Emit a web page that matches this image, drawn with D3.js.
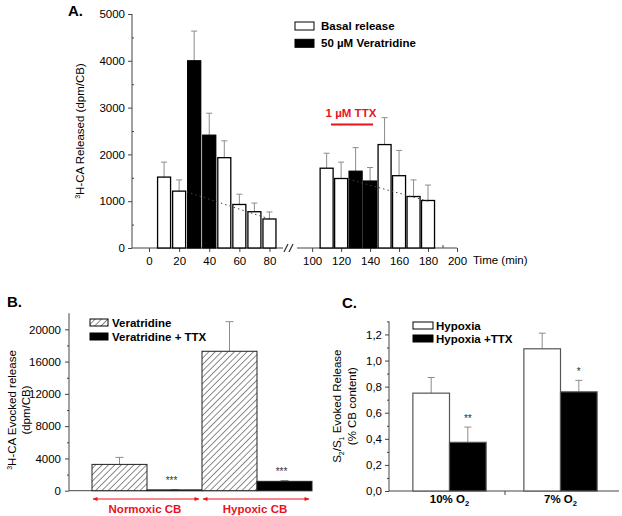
<!DOCTYPE html>
<html lang="en">
<head>
<meta charset="utf-8">
<title>Veratridine / TTX release</title>
<script src="https://cdn.jsdelivr.net/npm/d3@7"></script>
<style>
    body { margin: 0; background: #fff; }
    svg { font-family: "Liberation Sans", Arial, sans-serif; }
    .tick text { font-size: 11.5px; fill: #000; }
    .bold { font-weight: bold; }
    .red { fill: #e8141c; }
</style>
</head>
<body>
<svg id="fig" width="622" height="516"></svg>
<script>
// ---- panel A: time course ----
const timeA = [10, 20, 30, 40, 50, 60, 70, 80, 110, 120, 130, 140, 150, 160, 170, 180];
const releaseA = [1515, 1215, 4000, 2410, 1930, 930, 775, 620, 1705, 1485, 1640, 1430, 2210, 1545, 1100, 1015];
const errA = [1835, 1455, 4635, 2880, 2290, 1150, 960, 770, 2025, 1835, 2145, 1720, 2785, 2085, 1455, 1345];
const veraA = [false, false, true, true, false, false, false, false, false, false, true, true, false, false, false, false];
const trendA = [[[25, 1200], [80, 620]], [[125, 1470], [180, 1000]]];
const ttxA = [113, 142, 2640];
const xTicksA = [0, 20, 40, 60, 80, 100, 120, 140, 160, 180, 200];
const yTicksA = [0, 1000, 2000, 3000, 4000, 5000];

// ---- panel B: evoked release ----
const groupsB = ["Normoxic CB", "Hypoxic CB"];
const seriesB = ["Veratridine", "Veratridine + TTX"];
const valuesB = [[3260, 100], [17280, 1160]];
const errB = [[4130, 130], [20950, 1260]];
const starsB = [["", "***"], ["", "***"]];
const yTicksB = [0, 4000, 8000, 12000, 16000, 20000];

// ---- panel C: S2/S1 ----
const groupsC = ["10%", "7%"];
const seriesC = ["Hypoxia", "Hypoxia +TTX"];
const valuesC = [[0.75, 0.373], [1.09, 0.76]];
const errC = [[0.87, 0.49], [1.21, 0.848]];
const starsC = [["", "**"], ["", "*"]];
const yTicksC = [0, 0.2, 0.4, 0.6, 0.8, 1.0, 1.2];

const svg = d3.select("#fig");
const errCol = "#8c8c8c";
const plain = d3.format("d");

const defs = svg.append("defs");
const hatch = defs.append("pattern")
    .attr("id", "hatch").attr("patternUnits", "userSpaceOnUse")
    .attr("width", 4.5).attr("height", 4.5)
    .attr("patternTransform", "rotate(45)");
hatch.append("rect").attr("width", 4.5).attr("height", 4.5).attr("fill", "#fff");
hatch.append("line").attr("x1", 0).attr("y1", 0).attr("x2", 0).attr("y2", 4.5)
    .attr("stroke", "#000").attr("stroke-width", 0.9);
defs.append("marker").attr("id", "arr").attr("viewBox", "0 0 10 10")
    .attr("refX", 9).attr("refY", 5).attr("markerWidth", 6).attr("markerHeight", 5)
    .attr("orient", "auto-start-reverse")
    .append("path").attr("d", "M0,1L10,5L0,9z").attr("fill", "#e8141c");

function errorBar(g, x, y0, y1, cap) {
    g.append("line").attr("x1", x).attr("x2", x).attr("y1", y0).attr("y2", y1)
        .attr("stroke", errCol).attr("stroke-width", 1);
    g.append("line").attr("x1", x - cap).attr("x2", x + cap).attr("y1", y1).attr("y2", y1)
        .attr("stroke", errCol).attr("stroke-width", 1);
}

function styleAxis(g) {
    g.select(".domain").remove();
    g.selectAll(".tick line").attr("stroke", "#444");
}

// ================= A =================
const xA = d3.scaleLinear().domain([-11.3, 87, 93, 200]).range([132, 280, 302, 457]);
const yA = d3.scaleLinear().domain([0, 5000]).range([248, 14]);
const gA = svg.append("g");

gA.append("text").attr("class", "bold").attr("x", 68).attr("y", 16)
    .attr("font-size", 15).text("A.");

// axes lines with break
gA.append("line").attr("x1", 132).attr("x2", 132).attr("y1", yA(0)).attr("y2", yA(5000)).attr("stroke", "#444");
gA.append("line").attr("x1", 132).attr("x2", 283).attr("y1", yA(0)).attr("y2", yA(0)).attr("stroke", "#444");
gA.append("line").attr("x1", 297).attr("x2", 457).attr("y1", yA(0)).attr("y2", yA(0)).attr("stroke", "#444");
[286, 291].forEach(bx => {
    gA.append("line").attr("x1", bx - 2).attr("x2", bx + 2).attr("y1", yA(0) + 4).attr("y2", yA(0) - 4)
        .attr("stroke", "#333").attr("stroke-width", 1.2);
});

gA.append("g").attr("transform", `translate(0,${yA(0)})`)
    .call(d3.axisBottom(xA).tickValues(xTicksA).tickSize(4).tickPadding(5).tickFormat(plain))
    .call(styleAxis);
gA.append("g").attr("transform", `translate(0,${yA(0)})`)
    .call(d3.axisBottom(xA).tickValues(d3.range(10, 200, 20).filter(d => d !== 90)).tickSize(-3).tickFormat(""))
    .call(styleAxis);
gA.append("g").attr("transform", "translate(132,0)")
    .call(d3.axisLeft(yA).tickValues(yTicksA).tickSize(4).tickPadding(3).tickFormat(plain))
    .call(styleAxis);
gA.append("g").attr("transform", "translate(132,0)")
    .call(d3.axisLeft(yA).tickValues([500, 1500, 2500, 3500, 4500]).tickSize(-2).tickFormat(""))
    .call(styleAxis);

gA.append("text").attr("x", 473).attr("y", yA(0) + 16).attr("font-size", 11.5).text("Time (min)");
gA.append("text").attr("transform", `translate(84,${yA(2500)}) rotate(-90)`)
    .attr("text-anchor", "middle").attr("font-size", 11.5)
    .html('<tspan font-size="7" dy="-4">3</tspan><tspan dy="4">H-CA Released (dpm/CB)</tspan>');

timeA.forEach((t, i) => {
    errorBar(gA, xA(t), yA(releaseA[i]), yA(errA[i]), 3);
});
gA.selectAll("rect.barA").data(timeA).join("rect").attr("class", "barA")
    .attr("x", d => xA(d) - 6.5).attr("width", 13)
    .attr("y", (d, i) => yA(releaseA[i])).attr("height", (d, i) => yA(0) - yA(releaseA[i]))
    .attr("fill", (d, i) => veraA[i] ? "#000" : "#fff")
    .attr("stroke", "#000").attr("stroke-width", 1.3);

// dotted trend lines, drawn over the bars
trendA.forEach(seg => {
    gA.append("line")
        .attr("x1", xA(seg[0][0])).attr("y1", yA(seg[0][1]))
        .attr("x2", xA(seg[1][0])).attr("y2", yA(seg[1][1]))
        .attr("stroke", "#444").attr("stroke-width", 1).attr("stroke-dasharray", "1.5,3");
});

// TTX bar
gA.append("line").attr("x1", xA(ttxA[0])).attr("x2", xA(ttxA[1]))
    .attr("y1", yA(ttxA[2])).attr("y2", yA(ttxA[2]))
    .attr("stroke", "#e8141c").attr("stroke-width", 2);
gA.append("text").attr("class", "bold red").attr("x", (xA(ttxA[0]) + xA(ttxA[1])) / 2 - 1)
    .attr("y", yA(ttxA[2]) - 7).attr("text-anchor", "middle").attr("font-size", 11.5).text("1 µM TTX");

// legend A
[["Basal release", "#fff"], ["50 µM Veratridine", "#000"]].forEach((l, i) => {
    gA.append("rect").attr("x", 295).attr("y", 22 + i * 17.3).attr("width", 19).attr("height", 8)
        .attr("fill", l[1]).attr("stroke", "#000").attr("stroke-width", 1);
    gA.append("text").attr("class", "bold").attr("x", 321).attr("y", 30 + i * 17.3)
        .attr("font-size", 11.5).text(l[0]);
});

// ================= B =================
const yB = d3.scaleLinear().domain([0, 22000]).range([490.7, 313.2]);
const x0B = d3.scaleBand().domain(groupsB).range([92, 312]);
const x1B = d3.scaleBand().domain(seriesB).range([0, x0B.bandwidth()]);
const gB = svg.append("g");

gB.append("text").attr("class", "bold").attr("x", 7).attr("y", 307).attr("font-size", 15).text("B.");
gB.append("line").attr("x1", 69).attr("x2", 69).attr("y1", yB(0)).attr("y2", yB(22000)).attr("stroke", "#444");
gB.append("line").attr("x1", 69).attr("x2", 312).attr("y1", yB(0)).attr("y2", yB(0)).attr("stroke", "#444");
gB.append("g").attr("transform", "translate(69,0)")
    .call(d3.axisLeft(yB).tickValues(yTicksB).tickSize(4).tickPadding(4).tickFormat(plain))
    .call(styleAxis);
gB.append("g").attr("transform", "translate(69,0)")
    .call(d3.axisLeft(yB).tickValues(d3.range(2000, 22000, 4000)).tickSize(2).tickFormat(""))
    .call(styleAxis);

gB.append("text").attr("transform", `translate(16,${yB(10000)}) rotate(-90)`)
    .attr("text-anchor", "middle").attr("font-size", 11.5)
    .html('<tspan font-size="7" dy="-4">3</tspan><tspan dy="4">H-CA Evocked release</tspan>');
gB.append("text").attr("transform", `translate(30,${yB(10000)}) rotate(-90)`)
    .attr("text-anchor", "middle").attr("font-size", 11.5).text("(dpm/CB)");

groupsB.forEach((gName, gi) => {
    seriesB.forEach((s, si) => {
        const x = x0B(gName) + x1B(s);
        const w = x1B.bandwidth();
        errorBar(gB, x + w / 2, yB(valuesB[gi][si]), yB(errB[gi][si]), 4);
        gB.append("rect").attr("x", x).attr("width", w)
            .attr("y", yB(valuesB[gi][si])).attr("height", yB(0) - yB(valuesB[gi][si]))
            .attr("fill", si === 0 ? "url(#hatch)" : "#000")
            .attr("stroke", "#222").attr("stroke-width", 1);
        if (starsB[gi][si]) {
            gB.append("text").attr("x", x + w / 2 - 3).attr("y", yB(errB[gi][si]) - 6)
                .attr("text-anchor", "middle").attr("font-size", 10).attr("fill", "#333")
                .text(starsB[gi][si]);
        }
    });
    const a = x0B(gName), b = a + x0B.bandwidth();
    gB.append("line").attr("x1", a + 1).attr("x2", b - 3).attr("y1", 499).attr("y2", 499)
        .attr("stroke", "#e8141c").attr("stroke-width", 1)
        .attr("marker-start", "url(#arr)").attr("marker-end", "url(#arr)");
    gB.append("text").attr("class", "bold red").attr("x", (a + b) / 2 - 2).attr("y", 513)
        .attr("text-anchor", "middle").attr("font-size", 11.5).text(gName);
});

[["Veratridine", "url(#hatch)"], ["Veratridine + TTX", "#000"]].forEach((l, i) => {
    gB.append("rect").attr("x", 90).attr("y", 319 + i * 14).attr("width", 18).attr("height", 7)
        .attr("fill", l[1]).attr("stroke", "#000").attr("stroke-width", 1);
    gB.append("text").attr("class", "bold").attr("x", 112).attr("y", 327 + i * 14)
        .attr("font-size", 11.5).text(l[0]);
});

// ================= C =================
const yC = d3.scaleLinear().domain([0, 1.3]).range([491, 321.4]);
const x0C = d3.scaleBand().domain(groupsC).range([394, 616]).paddingInner(0.34).paddingOuter(0.17);
const x1C = d3.scaleBand().domain(seriesC).range([0, x0C.bandwidth()]);
const gC = svg.append("g");

gC.append("text").attr("class", "bold").attr("x", 342).attr("y", 308).attr("font-size", 15).text("C.");
gC.append("line").attr("x1", 389).attr("x2", 389).attr("y1", yC(0)).attr("y2", yC(1.3)).attr("stroke", "#444");
gC.append("line").attr("x1", 389).attr("x2", 619).attr("y1", yC(0)).attr("y2", yC(0)).attr("stroke", "#444");
gC.append("line").attr("x1", 505).attr("x2", 505).attr("y1", yC(0)).attr("y2", yC(0) + 4).attr("stroke", "#444");
gC.append("g").attr("transform", "translate(389,0)")
    .call(d3.axisLeft(yC).tickValues(yTicksC).tickSize(4).tickPadding(3)
        .tickFormat(d => d3.format(".1f")(d).replace(".", ",")))
    .call(styleAxis);
gC.append("g").attr("transform", "translate(389,0)")
    .call(d3.axisLeft(yC).tickValues(d3.range(0.1, 1.31, 0.2)).tickSize(2).tickFormat(""))
    .call(styleAxis);

const labC = gC.append("text").attr("transform", `translate(341,${yC(0.65)}) rotate(-90)`)
    .attr("text-anchor", "middle").attr("font-size", 11.5);
labC.append("tspan").text("S");
labC.append("tspan").attr("font-size", 7).attr("dy", 3).text("2");
labC.append("tspan").attr("dy", -3).text("/S");
labC.append("tspan").attr("font-size", 7).attr("dy", 3).text("1");
labC.append("tspan").attr("dy", -3).text(" Evoked Release");
gC.append("text").attr("transform", `translate(356,${yC(0.65)}) rotate(-90)`)
    .attr("text-anchor", "middle").attr("font-size", 11.5).text("(% CB content)");

groupsC.forEach((gName, gi) => {
    seriesC.forEach((s, si) => {
        const x = x0C(gName) + x1C(s);
        const w = x1C.bandwidth();
        errorBar(gC, x + w / 2, yC(valuesC[gi][si]), yC(errC[gi][si]), 3.5);
        gC.append("rect").attr("x", x).attr("width", w)
            .attr("y", yC(valuesC[gi][si])).attr("height", yC(0) - yC(valuesC[gi][si]))
            .attr("fill", si === 0 ? "#fff" : "#000")
            .attr("stroke", "#555").attr("stroke-width", 1.2);
        if (starsC[gi][si]) {
            gC.append("text").attr("x", x + w / 2).attr("y", yC(errC[gi][si]) - 5)
                .attr("text-anchor", "middle").attr("font-size", 10).attr("fill", "#333")
                .text(starsC[gi][si]);
        }
    });
    const t = gC.append("text").attr("class", "bold").attr("x", x0C(gName) + x0C.bandwidth() / 2)
        .attr("y", 503).attr("text-anchor", "middle").attr("font-size", 11.5);
    t.append("tspan").text(gName + " O");
    t.append("tspan").attr("font-size", 7.5).attr("dy", 3).text("2");
});

[["Hypoxia", "#fff"], ["Hypoxia +TTX", "#000"]].forEach((l, i) => {
    gC.append("rect").attr("x", 413).attr("y", 322 + i * 13).attr("width", 20).attr("height", 7)
        .attr("fill", l[1]).attr("stroke", "#000").attr("stroke-width", 1);
    gC.append("text").attr("class", "bold").attr("x", 436).attr("y", 330 + i * 13)
        .attr("font-size", 11.5).text(l[0]);
});
</script>
</body>
</html>
